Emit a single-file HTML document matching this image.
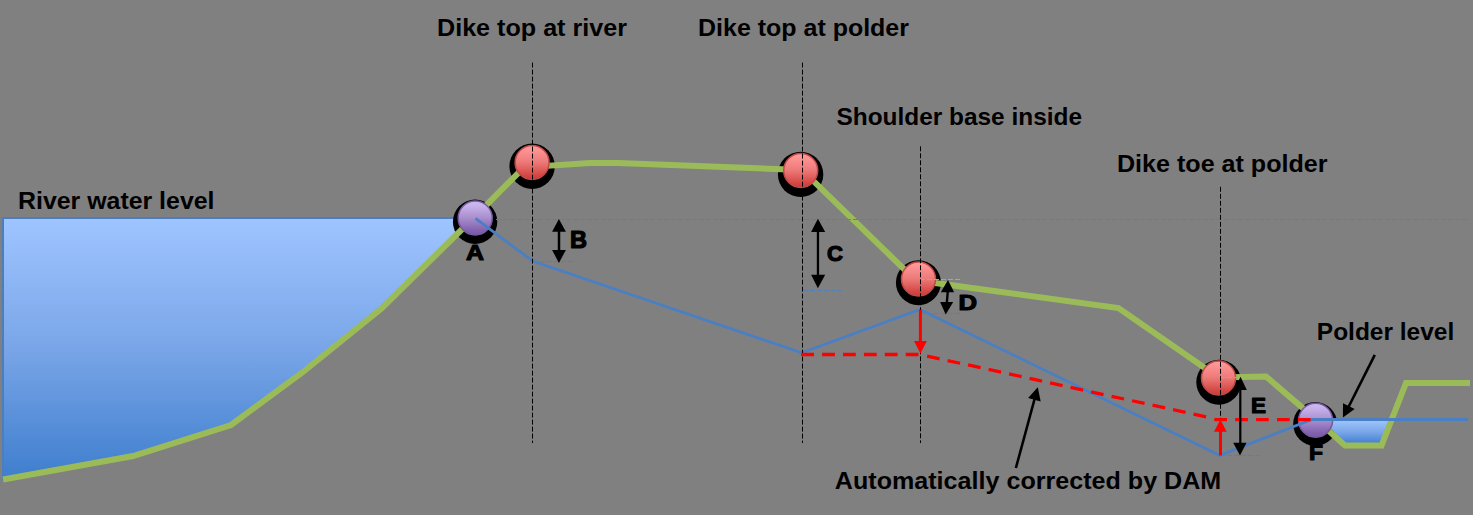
<!DOCTYPE html>
<html>
<head>
<meta charset="utf-8">
<style>
html,body{margin:0;padding:0;background:#808080;width:1473px;height:515px;overflow:hidden;}
svg{display:block;}
text{font-family:"Liberation Sans",sans-serif;font-weight:bold;fill:#000;}
</style>
</head>
<body>
<svg width="1473" height="515" viewBox="0 0 1473 515">
<defs>
<linearGradient id="gw" gradientUnits="userSpaceOnUse" x1="0" y1="217" x2="0" y2="480">
<stop offset="0" stop-color="#9fc5ff"/>
<stop offset="0.49" stop-color="#7aa6e8"/>
<stop offset="1" stop-color="#3e7ecd"/>
</linearGradient>
<linearGradient id="gp" gradientUnits="userSpaceOnUse" x1="0" y1="420" x2="0" y2="444">
<stop offset="0" stop-color="#9fc5ff"/>
<stop offset="0.5" stop-color="#7aa6e8"/>
<stop offset="1" stop-color="#3e7ecd"/>
</linearGradient>
<linearGradient id="gr" x1="0" y1="0" x2="0" y2="1">
<stop offset="0" stop-color="#ff9c9c"/>
<stop offset="0.09" stop-color="#ff9696"/>
<stop offset="0.49" stop-color="#ec7a78"/>
<stop offset="0.89" stop-color="#d34541"/>
<stop offset="1" stop-color="#cc3c38"/>
</linearGradient>
<linearGradient id="gv" x1="0" y1="0" x2="0" y2="1">
<stop offset="0" stop-color="#cfb9f2"/>
<stop offset="0.13" stop-color="#c8b2ec"/>
<stop offset="0.5" stop-color="#a88ecd"/>
<stop offset="0.86" stop-color="#8262ae"/>
<stop offset="1" stop-color="#7a58a6"/>
</linearGradient>
</defs>
<rect width="1473" height="515" fill="#808080"/>

<!-- river water -->
<polygon points="3,218 475,218 382,308 303,372 231,425 133,456 3,479.5" fill="url(#gw)" stroke="#4a7ec0" stroke-width="2"/>
<!-- shadows -->
<g fill="#000">
<circle cx="475.1" cy="221.8" r="22.2"/>
<circle cx="532.1" cy="166.3" r="22.7"/>
<circle cx="800.6" cy="174.4" r="22.7"/>
<circle cx="918.4" cy="282.7" r="22.5"/>
<circle cx="1218.8" cy="382.2" r="22.5"/>
<circle cx="1315.2" cy="424" r="22"/>
</g>

<!-- polder water -->
<polygon points="1331,420 1390,420 1381,443.5 1346,443.5 1330,428" fill="url(#gp)"/>


<!-- green ground line -->
<polyline points="3,479.5 133,456 231,425 303,372 382,308 475,216.5 524,167.3 590,162.9 618,163 802,169.9 915.6,280.3 1118.5,308 1218.5,377.5 1266,376.5 1315,418.5 1345,445.5 1381.5,445.5 1406,383 1470,383" fill="none" stroke="#9bbb59" stroke-width="6" stroke-linejoin="miter"/>

<!-- dashed river level -->
<line x1="496" y1="219.5" x2="1467" y2="219.5" stroke="#4f81bd" stroke-width="1" stroke-dasharray="5 2"/>

<!-- circles -->
<g stroke-width="1.5">
<circle cx="475.2" cy="218" r="17" fill="url(#gv)" stroke="#785aa0"/>
<circle cx="532.1" cy="162.5" r="17" fill="url(#gr)" stroke="#be4b48"/>
<circle cx="800.7" cy="170.5" r="17" fill="url(#gr)" stroke="#be4b48"/>
<circle cx="918.5" cy="279" r="17" fill="url(#gr)" stroke="#be4b48"/>
<circle cx="1218.5" cy="378" r="17" fill="url(#gr)" stroke="#be4b48"/>
<circle cx="1315.6" cy="420.3" r="17" fill="url(#gv)" stroke="#785aa0"/>
</g>

<!-- short dashed helper lines -->
<g stroke-width="1" stroke-dasharray="5 2">
<line x1="533" y1="261.5" x2="574" y2="261.5" stroke="#4f81bd"/>
<line x1="803" y1="290.5" x2="842" y2="290.5" stroke="#4f81bd"/>
<line x1="920" y1="279.5" x2="961" y2="279.5" stroke="#9bbb59"/>
<line x1="920" y1="313.5" x2="961" y2="313.5" stroke="#4f81bd"/>
<line x1="1220" y1="377.5" x2="1262" y2="377.5" stroke="#9bbb59"/>
<line x1="1220" y1="455.5" x2="1260" y2="455.5" stroke="#4f81bd"/>
</g>

<!-- blue surface line -->
<polyline points="475.5,218.4 532.6,261 801.7,352.8 919.8,309.5 1219.9,455.4 1312,419.5 1468,419.5" fill="none" stroke="#4a7fc4" stroke-width="2.8" stroke-linejoin="miter"/>

<!-- vertical dashed lines -->
<g stroke="#000" stroke-width="1" stroke-dasharray="5 2">
<line x1="532.5" y1="62.6" x2="532.5" y2="443"/>
<line x1="802.5" y1="62.6" x2="802.5" y2="443"/>
<line x1="920.5" y1="146.3" x2="920.5" y2="443"/>
<line x1="1220.5" y1="186.8" x2="1220.5" y2="420"/>
</g>

<!-- red dashed corrected line -->
<g stroke="#ff0000" stroke-width="3.3" fill="none">
<line x1="801.2" y1="354.5" x2="920" y2="354.5" stroke-dasharray="12.8 8.1"/>
<line x1="920" y1="354.5" x2="1213.5" y2="418.5" stroke-dasharray="12.8 8.18" stroke-dashoffset="13.73"/>
<line x1="1214.3" y1="419.6" x2="1311" y2="419.6" stroke-dasharray="12.7 8.2"/>
</g>

<!-- red arrows -->
<g fill="#ff0000" stroke="none">
<rect x="918.9" y="309.6" width="3" height="32"/>
<polygon points="914,341 926.9,341 920.4,353.5"/>
<rect x="1219" y="431" width="3" height="24.5"/>
<polygon points="1214,431.7 1226.7,431.7 1220.4,419.5"/>
</g>

<!-- black double arrows -->
<g fill="#000">
<!-- B -->
<rect x="557.75" y="230" width="2.5" height="22"/>
<polygon points="552.1,231.8 565.9,231.8 558.9,219.1"/>
<polygon points="552.1,250 565.9,250 558.9,262.9"/>
<!-- C -->
<rect x="816.8" y="230" width="2.3" height="46"/>
<polygon points="811.1,231.9 825.2,231.9 817.9,218.8"/>
<polygon points="811.1,274.7 825.2,274.7 817.9,288.2"/>
<!-- D -->
<polygon points="946.6,291 949,291 948,303 945.6,303"/>
<polygon points="940.8,292.3 954.1,292.3 948,279.9"/>
<polygon points="940.1,302 953.2,302 945.7,314.4"/>
<!-- E -->
<rect x="1239.2" y="388" width="2.2" height="56"/>
<polygon points="1234.4,389.9 1246.8,389.9 1240.5,376.8"/>
<polygon points="1233.2,442.7 1246.5,442.7 1240,455.5"/>
</g>

<!-- pointer arrows -->
<g stroke="#000" stroke-width="2.6" fill="none">
<line x1="1015.9" y1="468" x2="1035" y2="397.5"/>
<line x1="1374.8" y1="354.8" x2="1348" y2="408"/>
</g>
<g fill="#000">
<polygon points="1037.8,387.3 1028.1,398.1 1040.7,401.5"/>
<polygon points="1342.9,417.5 1343,403.2 1354.7,409.1"/>
</g>

<!-- labels -->
<text x="437" y="36" font-size="24.5" textLength="190" lengthAdjust="spacingAndGlyphs">Dike top at river</text>
<text x="698" y="35.5" font-size="24.5" textLength="211" lengthAdjust="spacingAndGlyphs">Dike top at polder</text>
<text x="836.5" y="124.7" font-size="24.5" textLength="245.5" lengthAdjust="spacingAndGlyphs">Shoulder base inside</text>
<text x="1117" y="171.7" font-size="24.5" textLength="210.5" lengthAdjust="spacingAndGlyphs">Dike toe at polder</text>
<text x="18" y="208.7" font-size="24.5" textLength="196.5" lengthAdjust="spacingAndGlyphs">River water level</text>
<text x="1316.8" y="339.5" font-size="24.5" textLength="137.5" lengthAdjust="spacingAndGlyphs">Polder level</text>
<text x="834.8" y="488.5" font-size="24.5" textLength="386.5" lengthAdjust="spacingAndGlyphs">Automatically corrected by DAM</text>
<text x="466.00" y="259.90" font-size="22.77" textLength="18.00" lengthAdjust="spacingAndGlyphs" stroke="#000" stroke-width="1.2" stroke-linejoin="round">A</text>
<text x="570.00" y="247.90" font-size="23.60" textLength="17.00" lengthAdjust="spacingAndGlyphs" stroke="#000" stroke-width="1.2" stroke-linejoin="round">B</text>
<text x="827.00" y="260.90" font-size="22.63" textLength="16.00" lengthAdjust="spacingAndGlyphs" stroke="#000" stroke-width="1.2" stroke-linejoin="round">C</text>
<text x="958.50" y="309.90" font-size="22.21" textLength="18.50" lengthAdjust="spacingAndGlyphs" stroke="#000" stroke-width="1.2" stroke-linejoin="round">D</text>
<text x="1251.00" y="412.90" font-size="22.21" textLength="15.00" lengthAdjust="spacingAndGlyphs" stroke="#000" stroke-width="1.2" stroke-linejoin="round">E</text>
<text x="1309.00" y="460.40" font-size="22.49" textLength="14.00" lengthAdjust="spacingAndGlyphs" stroke="#000" stroke-width="1.2" stroke-linejoin="round">F</text>
</svg>
</body>
</html>
